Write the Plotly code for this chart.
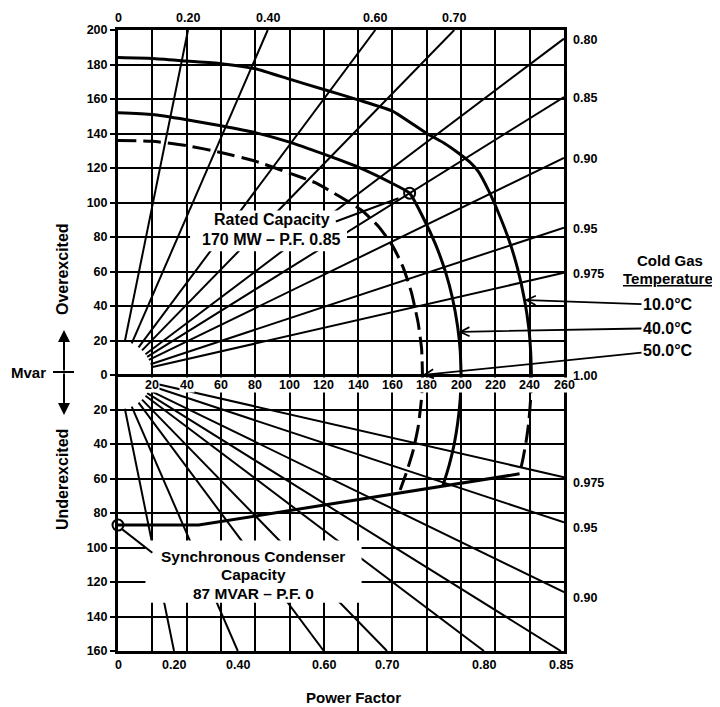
import math
import plotly.graph_objects as go

# ---------------- data ----------------
P_RANGE = [0, 260]
Q_RANGE = [-160, 200]
p_tick_vals = list(range(20, 261, 20))
q_tick_vals = list(range(-160, 201, 20))

pf_lines = [0.20, 0.40, 0.60, 0.70, 0.80, 0.85, 0.90, 0.95, 0.975]
pf_line_start = 20  # MVA radius where the power-factor rays begin
pf_top_labels = [0.0, 0.20, 0.40, 0.60, 0.70]
pf_right_over_labels = [0.80, 0.85, 0.90, 0.95, 0.975, 1.00]
pf_bottom_labels = [0.0, 0.20, 0.40, 0.60, 0.70, 0.80, 0.85]
pf_right_under_labels = [0.975, 0.95, 0.90]

# capability curves (MW, Mvar)
c10_over_p = [0, 20, 40, 60, 80, 100, 120, 140, 160, 180, 190, 198, 205, 210, 216, 222, 228, 233, 237, 239.5, 240.6, 241]
c10_over_q = [184, 183.5, 182, 180.5, 177.5, 171.5, 165.5, 159.5, 153, 140, 134.5, 129, 123.5, 118, 107, 93.5, 78, 61.5, 43.5, 27, 13, 0]
c10_under_p = [241, 240.6, 239.5, 238, 236, 234.1]
c10_under_q = [0, -13, -27, -38, -49, -57.3]

c40_over_p = [0, 20, 40, 60, 80, 100, 120, 140, 160, 170, 178, 185, 191, 195, 198, 199.5, 200]
c40_over_q = [152, 151, 148, 144.5, 140.5, 135, 128, 120.5, 111, 105.4, 91, 76, 59.5, 44.5, 28, 14, 0]
c40_under_p = [200, 199.5, 198, 196, 193, 189.3]
c40_under_q = [0, -14, -28, -40, -52.5, -64.5]

c50_over_p = [0, 20, 40, 60, 80, 100, 115, 130, 142, 152, 160, 166, 171, 175, 177, 177.5]
c50_over_q = [136, 135.5, 133, 129, 124, 117, 111.5, 103, 95.5, 86, 75, 63, 48, 30, 15, 0]
c50_under_p = [177.5, 177, 175, 172, 168, 163.8]
c50_under_q = [0, -13, -30, -44, -57, -68.5]

limit_p = [0, 47, 234.1]
limit_q = [-87, -87, -57.3]

rated_point = (170, 105.4)
sync_point = (0, -87)

temp_labels = ["10.0°C", "40.0°C", "50.0°C"]
temp_heads = [(237, 43.5), (198.4, 25), (177.5, 0)]

FONT = "Liberation Sans, Arial, Helvetica, sans-serif"

# ---------------- geometry helpers (layout) ----------------
OFF = 8                      # page body margin in the browser
SL, ST = 118, 30             # plot area top-left on screen
PW, PH = 446, 621            # plot area size
W, H = 720 - OFF, 707 - OFF
L, T = SL - OFF, ST - OFF
R, B = W - L - PW, H - T - PH


def px_x(p):
    return SL + (p - P_RANGE[0]) / (P_RANGE[1] - P_RANGE[0]) * PW


def px_y(q):
    return ST + (Q_RANGE[1] - q) / (Q_RANGE[1] - Q_RANGE[0]) * PH


def paper_x(sx):
    return (sx - SL) / PW


def paper_y(sy):
    return (ST + PH - sy) / PH


def slope(pf):
    return math.sqrt(1 - pf * pf) / pf if pf > 0 else float("inf")


def fmt(pf):
    if pf == 0:
        return "0"
    if pf == 0.975:
        return "0.975"
    return f"{pf:.2f}"


fig = go.Figure()

# power-factor rays
for sign, qlim in ((1, Q_RANGE[1]), (-1, -Q_RANGE[0])):
    xs, ys = [], []
    for pf in pf_lines:
        c, s = pf, math.sqrt(1 - pf * pf)
        t_end = min(P_RANGE[1] / c, qlim / s)
        xs += [pf_line_start * c, t_end * c, None]
        ys += [sign * pf_line_start * s, sign * t_end * s, None]
    fig.add_trace(go.Scatter(x=xs, y=ys, mode="lines", line=dict(color="black", width=2),
                             hoverinfo="skip", showlegend=False))

DASH = "18px,7px"
curves = [
    (c10_over_p, c10_over_q, "solid"),
    (c10_under_p, c10_under_q, DASH),
    (c40_over_p, c40_over_q, "solid"),
    (c40_under_p, c40_under_q, "solid"),
    (c50_over_p, c50_over_q, DASH),
    (c50_under_p, c50_under_q, DASH),
]
for xs, ys, d in curves:
    fig.add_trace(go.Scatter(x=xs, y=ys, mode="lines",
                             line=dict(color="black", width=3, dash=d, shape="spline", smoothing=0.5),
                             hoverinfo="skip", showlegend=False))
fig.add_trace(go.Scatter(x=limit_p, y=limit_q, mode="lines",
                         line=dict(color="black", width=3),
                         hoverinfo="skip", showlegend=False))

fig.add_trace(go.Scatter(x=[rated_point[0], sync_point[0]], y=[rated_point[1], sync_point[1]],
                         mode="markers", cliponaxis=False,
                         marker=dict(symbol="circle-open", size=11, color="black", line=dict(width=2)),
                         hoverinfo="skip", showlegend=False))

shapes = [
    # white boxes behind the notes
    dict(type="rect", xref="x", yref="y", x0=42, x1=133.5, y0=71.8, y1=95.3,
         fillcolor="white", line=dict(width=0), layer="above"),
    dict(type="rect", xref="x", yref="y", x0=16, x1=142, y0=-132, y1=-96,
         fillcolor="white", line=dict(width=0), layer="above"),
    # leader lines
    dict(type="line", xref="x", yref="y", x0=127, y0=89, x1=163.5, y1=102.5,
         line=dict(color="black", width=2), layer="above"),
    dict(type="line", xref="x", yref="y", x0=2.5, y0=-89.5, x1=20, y1=-103,
         line=dict(color="black", width=2), layer="above"),
    # Mvar cross bar
    dict(type="line", xref="paper", yref="paper", x0=paper_x(53), x1=paper_x(74),
         y0=paper_y(372), y1=paper_y(372), line=dict(color="black", width=2)),
]

ann = []


def label(text, x, y, xref, yref, size=12, **kw):
    d = dict(text=text, x=x, y=y, xref=xref, yref=yref, showarrow=False,
             xanchor="center", yanchor="middle",
             font=dict(family=FONT, size=size, color="black", weight="bold"))
    d.update(kw)
    return d


# MW tick labels on the zero line
for p in p_tick_vals:
    ann.append(label(str(p), p, -6, "x", "y", size=12.5, bgcolor="white", borderpad=0))

# power factor labels
for pf in pf_top_labels:
    x = 0 if pf == 0 else Q_RANGE[1] / slope(pf)
    ann.append(label(fmt(pf), x, 1, "x", "paper", size=12.5, yanchor="bottom", yshift=3))
for pf in pf_right_over_labels:
    y = 0 if pf == 1 else P_RANGE[1] * slope(pf)
    ann.append(label(fmt(pf), 1, y, "paper", "y", size=12.5, xanchor="left", xshift=7, yshift=-1))
for pf in pf_bottom_labels:
    x = 0 if pf == 0 else -Q_RANGE[0] / slope(pf)
    ann.append(label(fmt(pf), x, 0, "x", "paper", size=12.5, yanchor="top", yshift=-5))
for pf in pf_right_under_labels:
    y = -P_RANGE[1] * slope(pf)
    ann.append(label(fmt(pf), 1, y, "paper", "y", size=12.5, xanchor="left", xshift=7, yshift=-6))

# notes
ann.append(label("Rated Capacity", 89.6, 89.9, "x", "y", size=16))
ann.append(label("170 MW – P.F. 0.85", 89.6, 78.3, "x", "y", size=16))
ann.append(label("Synchronous Condenser", 78.7, -105.5, "x", "y", size=15.5))
ann.append(label("Capacity", 78.7, -115.9, "x", "y", size=15.5))
ann.append(label("87 MVAR – P.F. 0", 78.7, -126.6, "x", "y", size=15.5))

# temperature legend
ann.append(label("Cold Gas", paper_x(670), paper_y(260), "paper", "paper", size=15))
ann.append(label("<u>Temperature</u>", paper_x(668), paper_y(278), "paper", "paper", size=15))
text_y = [305, 328, 350]
for txt, (hp, hq), ty in zip(temp_labels, temp_heads, text_y):
    ann.append(dict(text=txt, x=hp, y=hq, xref="x", yref="y", showarrow=True,
                    ax=668 - px_x(hp), ay=ty - px_y(hq), axref="pixel", ayref="pixel",
                    arrowhead=5, arrowsize=1, arrowwidth=1.8, arrowcolor="black",
                    font=dict(family=FONT, size=16, color="black", weight="bold")))

# axis side titles
ann.append(label("Overexcited", paper_x(62), paper_y(269), "paper", "paper", size=16, textangle=-90))
ann.append(label("Underexcited", paper_x(62), paper_y(480), "paper", "paper", size=16, textangle=-90))
ann.append(label("Mvar", paper_x(28), paper_y(372), "paper", "paper", size=15))
for tip in (330, 415):
    ann.append(dict(text="", x=paper_x(64), y=paper_y(tip), xref="paper", yref="paper",
                    showarrow=True, ax=0, ay=372 - tip, axref="pixel", ayref="pixel",
                    arrowhead=2, arrowsize=1.2, arrowwidth=2, arrowcolor="black"))
ann.append(label("Power Factor", paper_x(353), paper_y(698), "paper", "paper", size=15))

fig.update_layout(
    width=W, height=H,
    margin=dict(l=L, r=R, t=T, b=B, pad=0),
    paper_bgcolor="white", plot_bgcolor="white",
    showlegend=False,
    shapes=shapes, annotations=ann,
    xaxis=dict(range=P_RANGE, dtick=20, tick0=0, showgrid=True, gridcolor="black", gridwidth=2,
               showticklabels=False, ticks="", zeroline=False,
               showline=True, linecolor="black", linewidth=3, mirror=True, fixedrange=True),
    yaxis=dict(range=Q_RANGE, tickvals=q_tick_vals, ticktext=[str(abs(v)) for v in q_tick_vals],
               showgrid=True, gridcolor="black", gridwidth=2,
               zeroline=True, zerolinecolor="black", zerolinewidth=3,
               ticks="outside", ticklen=5, tickwidth=2, tickcolor="black",
               tickfont=dict(family=FONT, size=12.5, color="black", weight="bold"),
               showline=True, linecolor="black", linewidth=3, mirror=True, fixedrange=True),
)

fig.write_html("out.html")
